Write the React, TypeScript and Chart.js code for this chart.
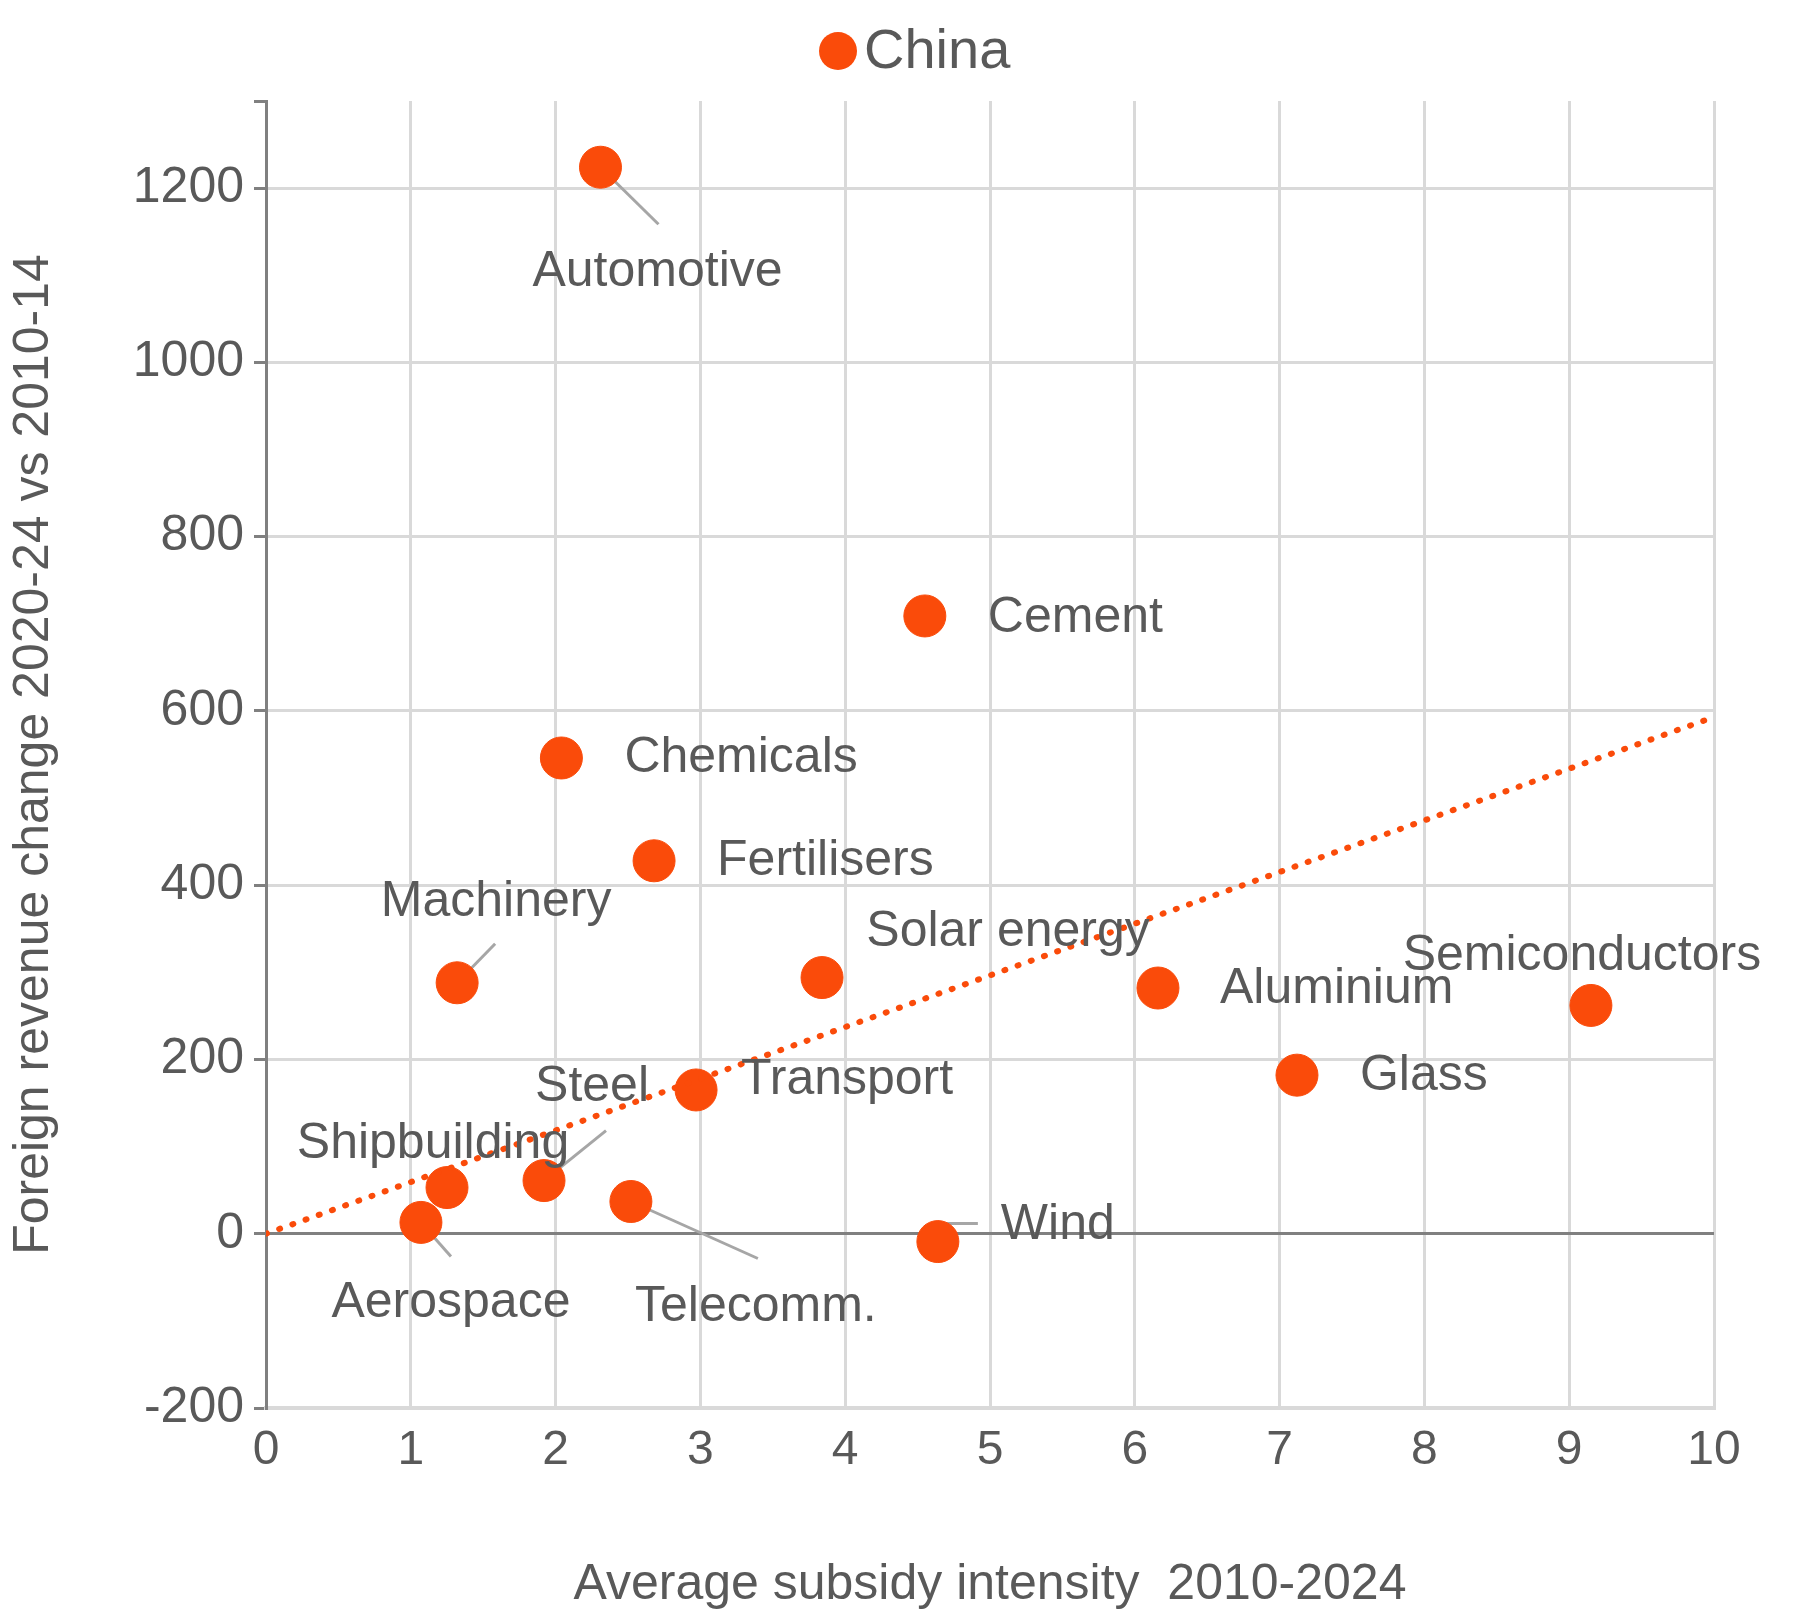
import React, { useEffect, useRef } from "react";
import { Chart, registerables } from "chart.js";
Chart.register(...registerables);

const sectors = ["Automotive","Cement","Chemicals","Fertilisers","Machinery","Solar energy","Aluminium","Semiconductors","Glass","Transport","Steel","Shipbuilding","Aerospace","Telecomm.","Wind"];
const subsidy = [2.31,4.55,2.04,2.68,1.32,3.84,6.16,9.15,7.12,2.97,1.92,1.25,1.07,2.52,4.64];
const revenue = [1224,709,546,428,288,294,282,262,182,165,61,53,13,37,-9];
const trendX = [0,10];
const trendY = [0,593];
const yTicks = [-200,0,200,400,600,800,1000,1200];

// label placement: [dx, dy, align], leader polyline offsets
const labelPos: Record<string, { dx: number; dy: number; align: CanvasTextAlign; leader?: number[][] }> = {
  Automotive: { dx: 57, dy: 105, align: "center", leader: [[0,0],[58,57]] },
  Cement: { dx: 63, dy: 2, align: "left" },
  Chemicals: { dx: 63, dy: 0, align: "left" },
  Fertilisers: { dx: 63, dy: 0, align: "left" },
  Machinery: { dx: 39, dy: -81, align: "center", leader: [[0,0],[38,-39]] },
  "Solar energy": { dx: 186, dy: -45, align: "center" },
  Aluminium: { dx: 62, dy: 1, align: "left" },
  Semiconductors: { dx: -9, dy: -49, align: "center" },
  Glass: { dx: 63, dy: 1, align: "left" },
  Transport: { dx: 45, dy: -10, align: "left" },
  Steel: { dx: 48, dy: -93, align: "center", leader: [[0,0],[62,-50]] },
  Shipbuilding: { dx: -14, dy: -43, align: "center" },
  Aerospace: { dx: 30, dy: 81, align: "center", leader: [[0,0],[30,34]] },
  "Telecomm.": { dx: 125, dy: 106, align: "center", leader: [[0,0],[127,57]] },
  Wind: { dx: 63, dy: -16, align: "left", leader: [[0,0],[9,-18],[40,-18]] },
};

const ORANGE = "#FA4B0A";
const TEXT = "#595959";
const FONT = "'Liberation Sans', Arial, sans-serif";

export default function App() {
  const ref = useRef<HTMLCanvasElement>(null);
  useEffect(() => {
    const labelsPlugin = {
      id: "labels",
      beforeDatasetsDraw(chart: any) {
        const ctx = chart.ctx;
        const meta = chart.getDatasetMeta(1);
        ctx.save();
        ctx.strokeStyle = "#A6A6A6";
        ctx.lineWidth = 3;
        meta.data.forEach((pt: any, i: number) => {
          const lp = labelPos[sectors[i]];
          if (!lp.leader) return;
          ctx.beginPath();
          lp.leader.forEach(([dx, dy], k) => (k ? ctx.lineTo(pt.x + dx, pt.y + dy) : ctx.moveTo(pt.x + dx, pt.y + dy)));
          ctx.stroke();
        });
        ctx.restore();
      },
      afterDraw(chart: any) {
        const ctx = chart.ctx;
        const meta = chart.getDatasetMeta(1);
        ctx.save();
        ctx.fillStyle = TEXT;
        ctx.font = `50px ${FONT}`;
        ctx.textBaseline = "middle";
        meta.data.forEach((pt: any, i: number) => {
          const lp = labelPos[sectors[i]];
          ctx.textAlign = lp.align;
          ctx.fillText(sectors[i], pt.x + lp.dx, pt.y + lp.dy);
        });
        // legend
        ctx.fillStyle = ORANGE;
        ctx.beginPath();
        ctx.arc(838, 51, 19, 0, Math.PI * 2);
        ctx.fill();
        ctx.fillStyle = TEXT;
        ctx.font = `56px ${FONT}`;
        ctx.textAlign = "left";
        ctx.fillText("China", 864, 53);
        ctx.restore();
      },
    };
    const chart = new Chart(ref.current!, {
      type: "scatter",
      data: {
        datasets: [
          {
            type: "line",
            data: trendX.map((x, i) => ({ x, y: trendY[i] })),
            borderColor: ORANGE,
            borderWidth: 6,
            borderDash: [1, 13],
            borderCapStyle: "round",
            pointRadius: 0,
            fill: false,
          } as any,
          {
            data: subsidy.map((x, i) => ({ x, y: revenue[i] })),
            backgroundColor: ORANGE,
            borderColor: ORANGE,
            pointRadius: 21,
            pointHoverRadius: 21,
          },
        ],
      },
      options: {
        animation: false,
        responsive: false,
        events: [],
        layout: { padding: { top: 101, left: 0, right: 86, bottom: 0 } },
        plugins: { legend: { display: false }, tooltip: { enabled: false } },
        scales: {
          x: {
            type: "linear",
            min: 0,
            max: 10,
            ticks: { stepSize: 1, color: TEXT, font: { size: 48, family: FONT }, padding: 14 },
            grid: { color: "#D9D9D9", lineWidth: 3, drawTicks: false },
            border: { color: "#D9D9D9", width: 4 },
            title: { display: true, text: "Average subsidy intensity  2010-2024", color: TEXT, font: { size: 50, family: FONT }, padding: { top: 30 } },
            afterFit(s: any) { s.height = 1619 - 1408; },
          },
          y: {
            type: "linear",
            min: -200,
            max: 1300,
            afterBuildTicks(s: any) { s.ticks = [...yTicks, 1300].map((v) => ({ value: v })); },
            ticks: {
              color: TEXT,
              font: { size: 50, family: FONT },
              padding: 10,
              callback: (v: any) => (yTicks.includes(v) ? String(v) : ""),
            },
            grid: {
              color: (c: any) => (c.tick && c.tick.value === 0 ? "#808080" : c.tick && c.tick.value === 1300 ? "rgba(0,0,0,0)" : "#D9D9D9"),
              lineWidth: 3,
              tickColor: "#808080",
              tickLength: 12,
            },
            border: { color: "#808080", width: 3 },
            title: { display: true, text: "Foreign revenue change 2020-24 vs 2010-14", color: TEXT, font: { size: 50, family: FONT }, padding: { bottom: 28 } },
            afterFit(s: any) { s.width = 266; },
          },
        },
      } as any,
      plugins: [labelsPlugin],
    });
    return () => chart.destroy();
  }, []);
  return (
    <div style={{ position: "absolute", left: 0, top: 0, width: 1800, height: 1619, background: "#fff" }}>
      <canvas ref={ref} width={1800} height={1619} style={{ width: 1800, height: 1619 }} />
    </div>
  );
}
